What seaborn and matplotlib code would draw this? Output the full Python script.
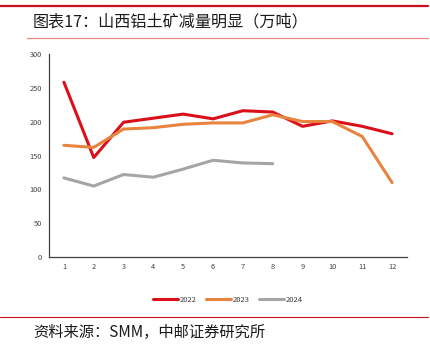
import numpy as np
import pandas as pd
import matplotlib
matplotlib.use("Agg")
import matplotlib.pyplot as plt
import seaborn as sns
from matplotlib.lines import Line2D

months = list(range(1, 13))
v2022 = [258, 147, 199, 205, 211, 204, 216, 214, 193, 201, 193, 182]
v2023 = [165, 162, 189, 191, 196, 198, 198, 210, 200, 200, 178, 110]
v2024 = [117, 105, 122, 118, 130, 143, 139, 138]
series_names = ["2022", "2023", "2024"]
colors = ["#DA0F1A", "#E8843E", "#A5A5A5"]
yticks = [0, 50, 100, 150, 200, 250, 300]
title = "图表17：山西铝土矿减量明显（万吨）"
source = "资料来源：SMM，中邮证券研究所"

rows = []
for name, vals in zip(series_names, [v2022, v2023, v2024]):
    for m, v in zip(months, vals):
        rows.append({"month": m, "value": v, "year": name})
df = pd.DataFrame(rows)

sns.set_theme(style="white")
plt.rcParams['font.family'] = ['Noto Sans CJK SC', 'DejaVu Sans']

fig = plt.figure(figsize=(4.31, 3.48), dpi=100)
ax = fig.add_axes([0.1137, 0.2606, 0.8306, 0.5851])

sns.lineplot(data=df, x="month", y="value", hue="year", palette=dict(zip(series_names, colors)),
             linewidth=2.2, ax=ax, legend=False, sort=True)

ax.set_xlim(0.5, 12.5)
ax.set_ylim(0, 300)
ax.set_yticks(yticks)
ax.set_yticklabels([str(t) for t in yticks], fontsize=5.3, color="#404040")
ax.set_xticks(months)
ax.set_xticklabels([str(m) for m in months], fontsize=5.3, color="#404040")
ax.set_xticks(np.arange(0.5, 13, 1), minor=True)
ax.tick_params(axis="x", which="major", length=0, pad=4)
ax.tick_params(axis="x", which="minor", length=3, width=0.8, color="#404040", direction="out")
ax.tick_params(axis="y", which="major", length=3, width=0.8, color="#404040", direction="out", pad=2)
ax.set_xlabel("")
ax.set_ylabel("")
for s in ["top", "right"]:
    ax.spines[s].set_visible(False)
for s in ["left", "bottom"]:
    ax.spines[s].set_color("#404040")
    ax.spines[s].set_linewidth(0.9)

handles = [Line2D([0], [0], color=c, lw=2.2) for c in colors]
fig.legend(handles, series_names, loc="center", bbox_to_anchor=(228 / 431, 1 - 299.5 / 348),
           ncol=3, frameon=False, fontsize=5.5, handlelength=3.3, handletextpad=0.2,
           columnspacing=1.2, labelcolor="#404040")

# decorative rules
fig.add_artist(Line2D([0.0, 0.993], [1 - 5.5 / 348] * 2, color="#C8101E", lw=1.6, transform=fig.transFigure))
fig.add_artist(Line2D([27 / 431, 0.993], [1 - 37.7 / 348] * 2, color="#E88A8A", lw=0.9, transform=fig.transFigure))
fig.add_artist(Line2D([0.0, 0.993], [1 - 317 / 348] * 2, color="#C8101E", lw=0.8, transform=fig.transFigure))

fig.text(33 / 431, 1 - 22 / 348, title, fontsize=11.6, ha="left", va="center", color="#1a1a1a")
fig.text(33 / 431, 1 - 332 / 348, source, fontsize=11, ha="left", va="center", color="#1a1a1a")

fig.savefig("out.png", dpi=100)
